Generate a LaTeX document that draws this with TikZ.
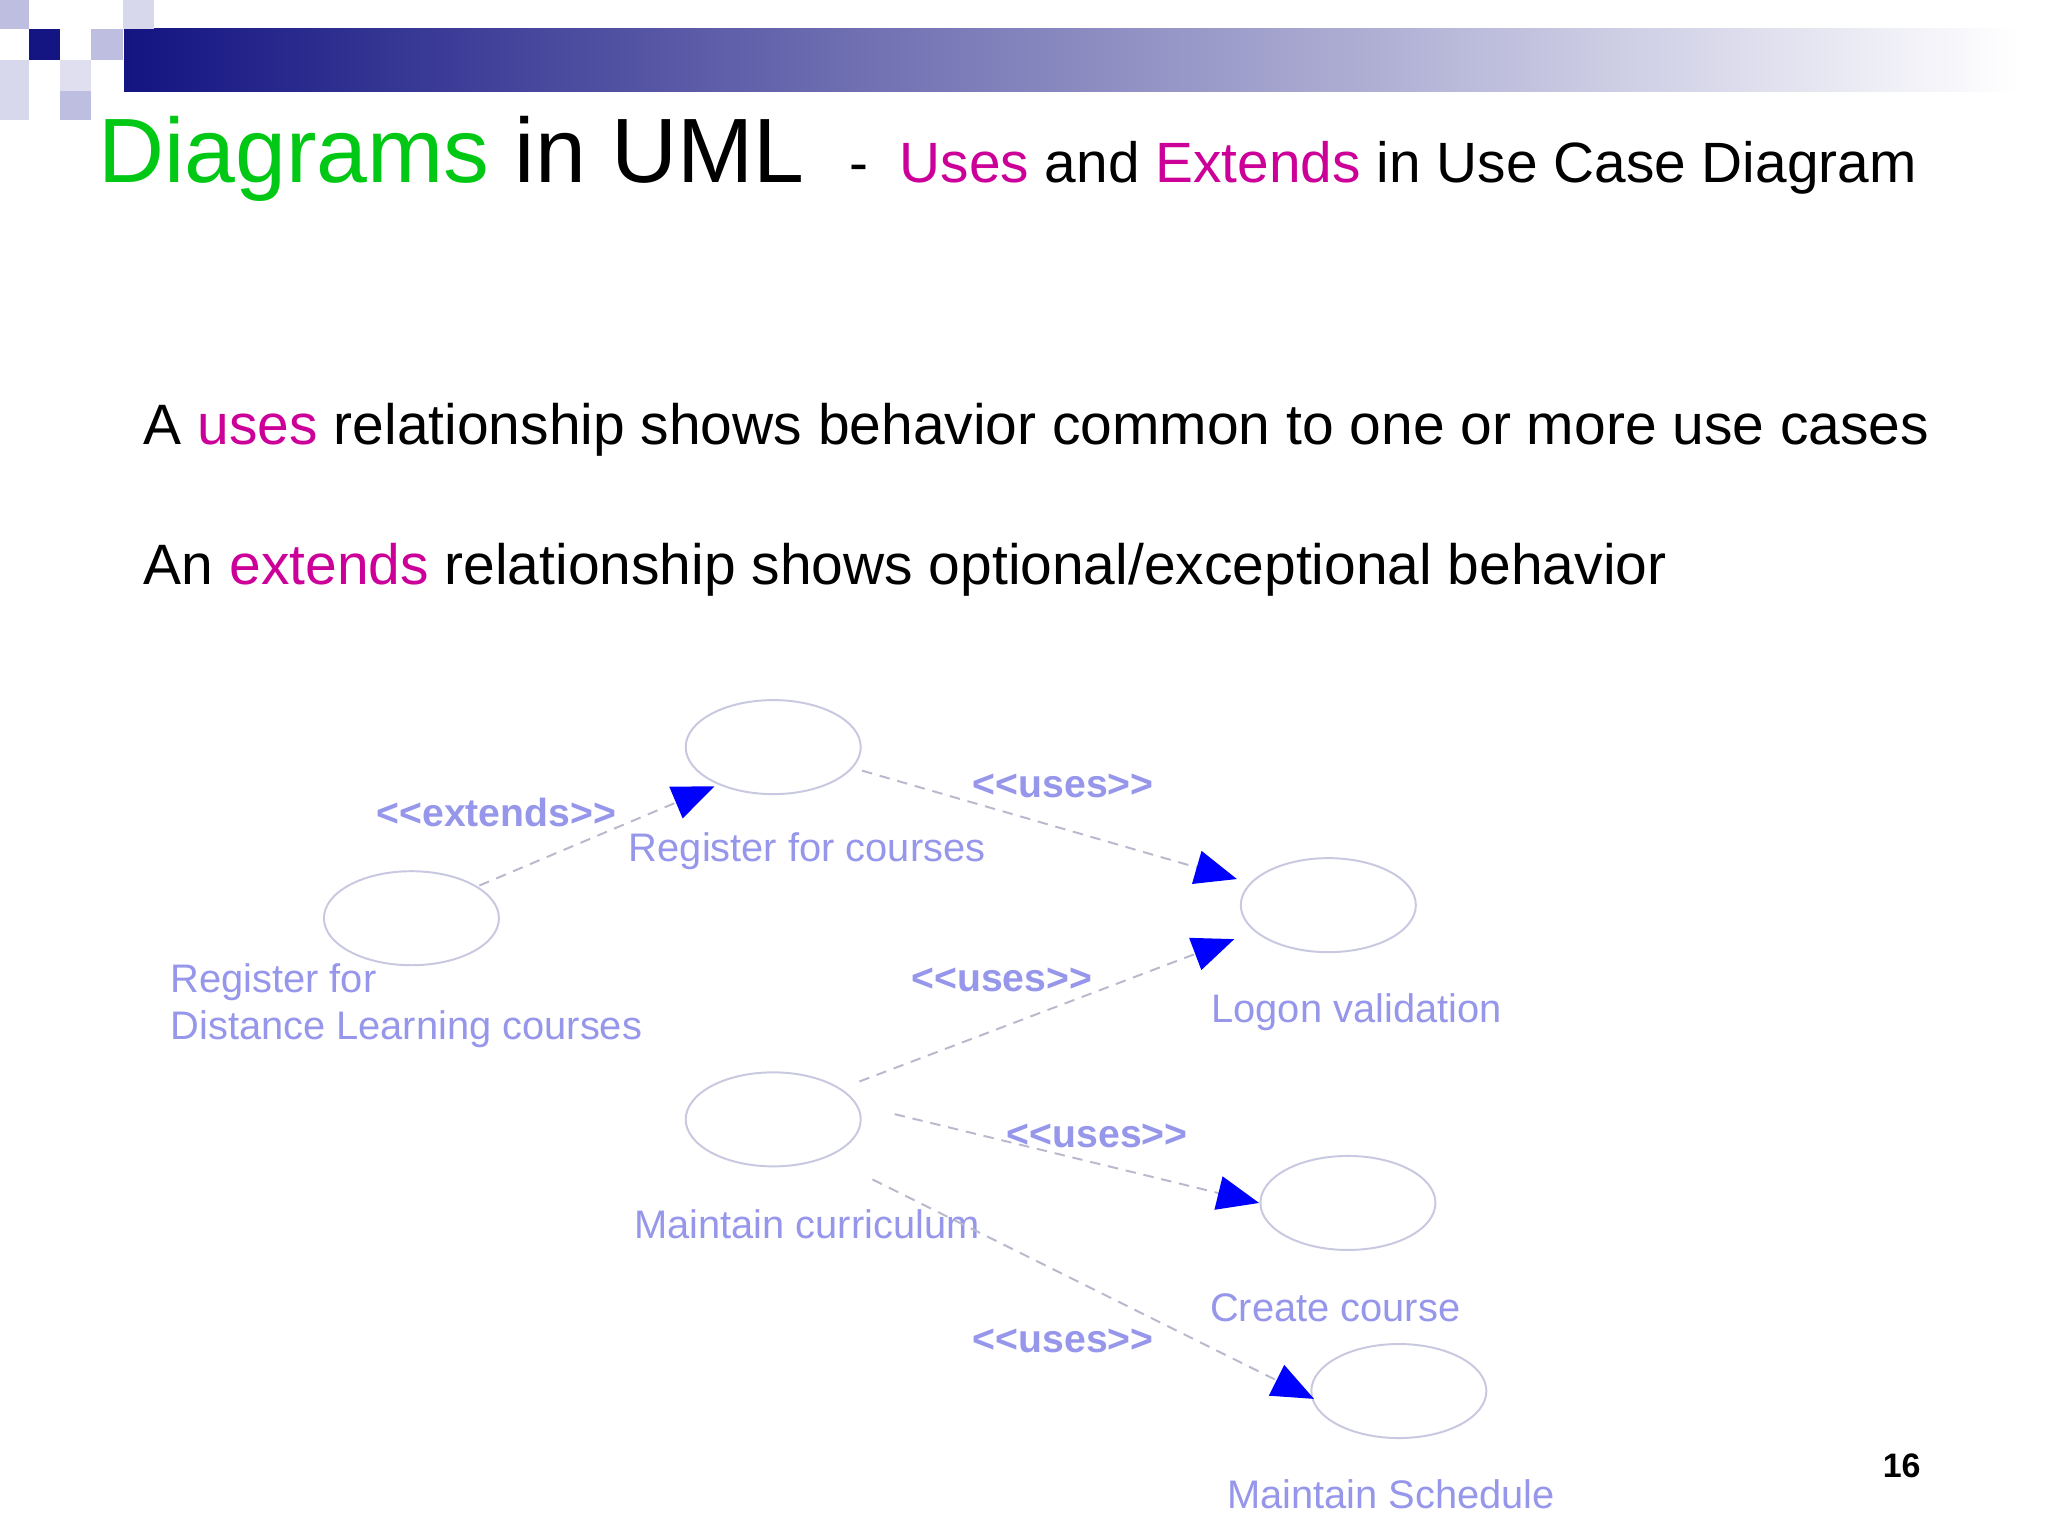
\documentclass[tikz,border=0pt]{standalone}
\usepackage{fontspec}
\setmainfont{Liberation Sans}
\usetikzlibrary{arrows.meta,shapes.geometric}
\definecolor{navy}{RGB}{20,20,130}
\definecolor{ttgreen}{RGB}{0,200,20}
\definecolor{mag}{RGB}{204,0,153}
\definecolor{lav}{RGB}{150,150,235}
\definecolor{ell}{RGB}{200,200,225}
\definecolor{sq}{RGB}{190,190,225}
\newcommand{\myll}{{<}{<}}
\newcommand{\mygg}{{>}{>}}
\tikzset{
 uc/.style={draw=ell,line width=1.5pt,ellipse,minimum width=134pt,minimum height=72pt,inner sep=0pt},
 lbl/.style={text=lav,font=\fontsize{30.5}{36}\selectfont,anchor=west,align=left},
 st/.style={text=lav,font=\bfseries\fontsize{30}{34}\selectfont},
 rel/.style={draw=ell!80!gray,line width=1.5pt,dash pattern=on 8pt off 6pt,-{Triangle[length=32pt,width=26pt,fill=blue,color=blue]}},
 body/.style={anchor=west,font=\fontsize{43.6}{50}\selectfont}
}
\begin{document}
\begin{tikzpicture}[x=1pt,y=-1pt]
\useasboundingbox (0,0) rectangle (1568,1176);
\fill[white] (0,0) rectangle (1568,1176);
\shade[left color=navy,right color=white] (95,22) rectangle (1545,70);
\fill[sq] (0,0) rectangle (22,22);
\fill[navy] (22,22) rectangle (46,46);
\fill[sq!60] (0,46) rectangle (22,92);
\fill[sq] (70,22) rectangle (94,46);
\fill[sq!60] (94,0) rectangle (118,22);
\fill[sq] (46,70) rectangle (70,92);
\fill[sq!50] (46,46) rectangle (70,70);
\node[anchor=base west,inner sep=0,font=\fontsize{70}{80}\selectfont] at (75,140) {\textcolor{ttgreen}{Diagrams} in UML};
\node[anchor=base west,inner sep=0,font=\fontsize{43.5}{50}\selectfont] at (650,140) {-\ \ \textcolor{mag}{Uses} and \textcolor{mag}{Extends} in Use Case Diagram};
\node[body,inner sep=0] at (110,329) {A \textcolor{mag}{uses} relationship shows behavior common to one or more use cases};
\node[body,inner sep=0] at (110,436) {An \textcolor{mag}{extends} relationship shows optional/exceptional behavior};
\node[uc] (reg) at (592,572) {};
\node[uc] (dist) at (315,703) {};
\node[uc] (logon) at (1017,693) {};
\node[uc] (curr) at (592,857) {};
\node[uc] (create) at (1032,921) {};
\node[uc] (sched) at (1071,1065) {};
\node[lbl] at (478,652) {Register for courses};
\node[lbl] at (127,770) {Register for\\Distance Learning courses};
\node[lbl] at (924,775) {Logon validation};
\node[lbl] at (482,937) {Maintain curriculum};
\node[lbl] at (923,1001) {Create course};
\node[lbl] at (936,1144) {Maintain Schedule};
\draw[rel] ([xshift=52pt,yshift=25pt]dist.center) -- ([xshift=-45pt,yshift=-30pt]reg.center);
\draw[rel] ([xshift=68pt,yshift=-18pt]reg.center) -- ([xshift=-70pt,yshift=20pt]logon.center);
\draw[rel] ([xshift=66pt,yshift=29pt]curr.center) -- ([xshift=-72pt,yshift=-26pt]logon.center);
\draw[rel] ([xshift=93pt,yshift=4pt]curr.center) -- ([xshift=-68pt,yshift=0pt]create.center);
\draw[rel] ([xshift=76pt,yshift=-46pt]curr.center) -- ([xshift=-65pt,yshift=-6pt]sched.center);
\node[st] at (380,622) {\myll extends\mygg};
\node[st] at (814,602) {\myll uses\mygg};
\node[st] at (767,750) {\myll uses\mygg};
\node[st] at (840,870) {\myll uses\mygg};
\node[st] at (814,1027) {\myll uses\mygg};
\node[font=\bfseries\fontsize{26}{30}\selectfont] at (1456,1122) {16};
\end{tikzpicture}
\end{document}
